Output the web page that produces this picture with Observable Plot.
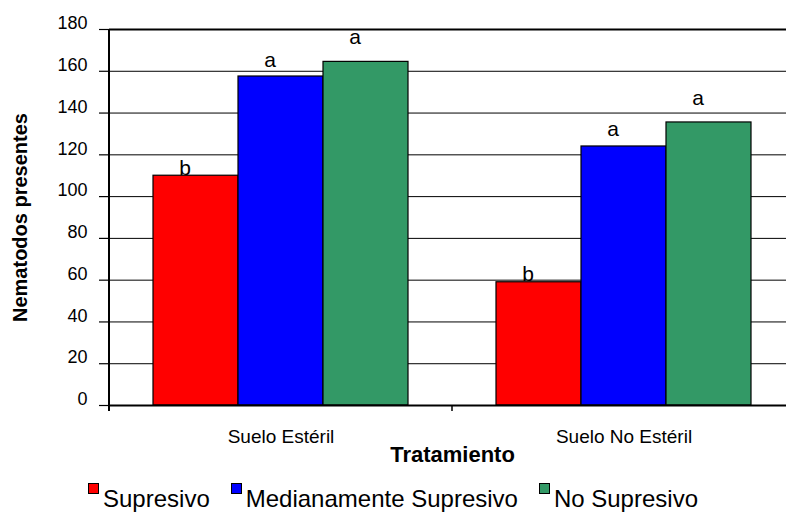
<!DOCTYPE html>
<html>
<head>
<meta charset="utf-8">
<script src="https://cdn.jsdelivr.net/npm/d3@7"></script>
<script src="https://cdn.jsdelivr.net/npm/@observablehq/plot@0.6"></script>
<style>
  html, body { margin: 0; padding: 0; background: #fff; overflow: hidden; }
  #chart svg { display: block; }
  [aria-label="y-axis label"] { font-weight: bold; font-size: 20px; }
  [aria-label="fx-axis label"] { font-weight: bold; font-size: 22px; }
  #legend { display: flex; justify-content: center; gap: 21px; font-family: "Liberation Sans", Arial, sans-serif;
            font-size: 24px; line-height: 24px; height: 47px; box-sizing: border-box; padding-top: 21px; color: #000; }
  #legend .item { display: flex; align-items: flex-start; white-space: nowrap; }
  #legend .sw { width: 9px; height: 9px; border: 1px solid #000; margin-right: 4px; margin-top: -4px; }
</style>
</head>
<body>
<div id="chart"></div>
<div id="legend"></div>
<script>
const categories = ["Suelo Estéril", "Suelo No Estéril"];
const series = ["Supresivo", "Medianamente Supresivo", "No Supresivo"];
const supresivo = [110, 59];
const medianamente = [157.5, 124];
const noSupresivo = [164.5, 135.5];
const letrasSupresivo = ["b", "b"];
const letrasMedianamente = ["a", "a"];
const letrasNoSupresivo = ["a", "a"];
const yTicks = [0, 20, 40, 60, 80, 100, 120, 140, 160, 180];
const colors = ["#ff0000", "#0000ff", "#339966"];

const valuesBySeries = [supresivo, medianamente, noSupresivo];
const lettersBySeries = [letrasSupresivo, letrasMedianamente, letrasNoSupresivo];
const data = series.flatMap((s, j) => categories.map((c, i) => ({
  category: c, series: s, value: valuesBySeries[j][i], letter: lettersBySeries[j][i]
})));

const letterLift = [1, 10, 17.5];

const font = '"Liberation Sans", Arial, sans-serif';

const chart = Plot.plot({
  width: 786,
  height: 466,
  marginLeft: 108,
  marginRight: -9,
  marginTop: 29,
  marginBottom: 61,
  style: { fontFamily: font, background: "white", color: "black" },
  fx: { domain: categories, padding: 0 },
  x: { domain: series, paddingInner: 0, paddingOuter: 0.5, axis: null },
  y: { domain: [0, 180] },
  color: { domain: series, range: colors },
  marks: [
    Plot.gridY(yTicks, { stroke: "#000", strokeOpacity: 1, strokeWidth: 1 }),
    Plot.ruleY([180], { stroke: "#000", strokeWidth: 2 }),
    Plot.axisY(yTicks, { tickSize: 10, tickFormat: () => "", label: null, stroke: "#000", strokeWidth: 1.2 }),
    Plot.axisY(yTicks, { tickSize: 0, tickPadding: 22, dy: -6, fontSize: 18, fill: "#000",
      label: "Nematodos presentes", labelAnchor: "center", labelArrow: "none", labelOffset: 97 }),
    Plot.axisFx({ anchor: "bottom", tickSize: 0, tickPadding: 23.5, fontSize: 19, fill: "#000",
      label: "Tratamiento", labelAnchor: "center", labelArrow: "none", labelOffset: 56 }),
    Plot.barY(data, { fx: "category", x: "series", y: "value", fill: "series", stroke: "#000", strokeWidth: 1.2 }),
    Plot.ruleY([0], { stroke: "#000", strokeWidth: 2 }),
    ...series.map((s, j) => Plot.text(data.filter(d => d.series === s), {
      fx: "category", x: "series", y: "value", text: "letter",
      lineAnchor: "bottom", dy: -letterLift[j], dx: -11, fontSize: 21, fill: "#000"
    }))
  ]
});

document.getElementById("chart").appendChild(chart);

// axis line and category boundary tick, from the plot's own scales
const fxs = chart.scale("fx");
const ys = chart.scale("y");
const svg = d3.select(chart);
const x0 = fxs.apply(categories[0]);
const xb = fxs.apply(categories[1]);
const y0 = ys.apply(0);
const yTop = ys.apply(180);
svg.append("line").attr("x1", x0).attr("x2", x0).attr("y1", yTop).attr("y2", y0 + 6)
  .attr("stroke", "#000").attr("stroke-width", 2);
svg.append("line").attr("x1", xb).attr("x2", xb).attr("y1", y0).attr("y2", y0 + 6)
  .attr("stroke", "#000").attr("stroke-width", 1.5);

// legend
const legend = d3.select("#legend");
series.forEach((s, j) => {
  const item = legend.append("div").attr("class", "item");
  item.append("div").attr("class", "sw").style("background", colors[j]);
  item.append("span").text(s);
});
</script>
</body>
</html>
